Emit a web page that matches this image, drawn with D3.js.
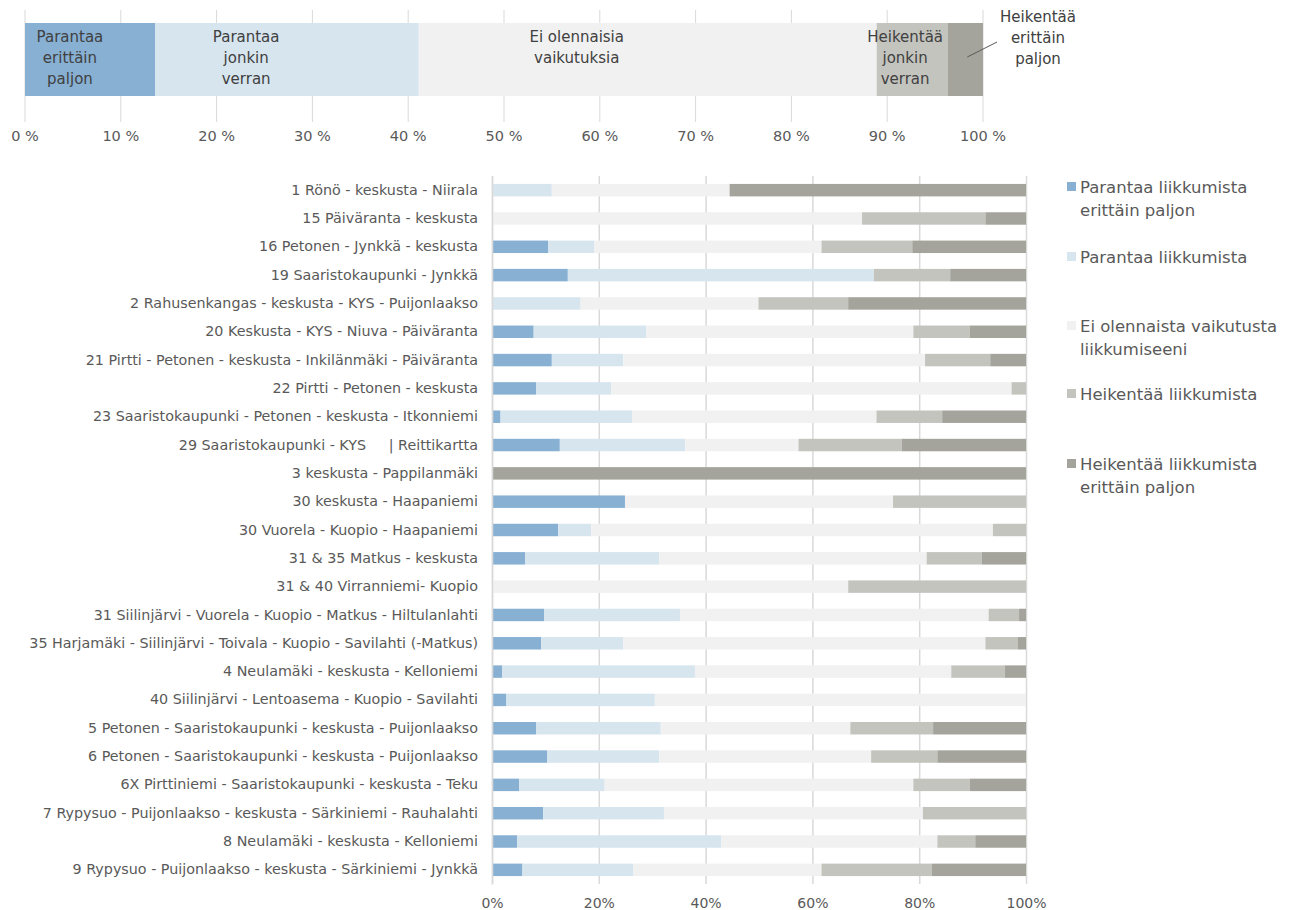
<!DOCTYPE html>
<html>
<head>
<meta charset="utf-8">
<script src="https://cdn.jsdelivr.net/npm/d3@7"></script>
<style>
  body { margin: 0; background: #fff; }
  svg { display: block; }
</style>
</head>
<body>
<svg id="chart" width="1291" height="910"></svg>
<script>
// series keys / legend names
var keys = ["pe", "pj", "ei", "hj", "he"];
var colors = ["#87b0d3", "#d7e5ef", "#f1f1f1", "#c4c4bf", "#a5a49c"];
var legendNames = [
  ["Parantaa liikkumista", "erittäin paljon"],
  ["Parantaa liikkumista"],
  ["Ei olennaista vaikutusta", "liikkumiseeni"],
  ["Heikentää liikkumista"],
  ["Heikentää liikkumista", "erittäin paljon"]
];

// overall (top bar)
var totalValues = [13.6, 27.5, 47.8, 7.4, 3.7];
var totalLabels = [
  ["Parantaa", "erittäin", "paljon"],
  ["Parantaa", "jonkin", "verran"],
  ["Ei olennaisia", "vaikutuksia"],
  ["Heikentää", "jonkin", "verran"],
  ["Heikentää", "erittäin", "paljon"]
];
var topTicks = [0, 10, 20, 30, 40, 50, 60, 70, 80, 90, 100];

// per route
var routes = [
  "1 Rönö - keskusta - Niirala",
  "15 Päiväranta - keskusta",
  "16 Petonen - Jynkkä - keskusta",
  "19 Saaristokaupunki - Jynkkä",
  "2 Rahusenkangas - keskusta - KYS - Puijonlaakso",
  "20 Keskusta - KYS - Niuva - Päiväranta",
  "21 Pirtti - Petonen - keskusta - Inkilänmäki - Päiväranta",
  "22 Pirtti - Petonen - keskusta",
  "23 Saaristokaupunki - Petonen - keskusta - Itkonniemi",
  "29 Saaristokaupunki - KYS     | Reittikartta",
  "3 keskusta - Pappilanmäki",
  "30 keskusta - Haapaniemi",
  "30 Vuorela - Kuopio - Haapaniemi",
  "31 & 35 Matkus - keskusta",
  "31 & 40 Virranniemi- Kuopio",
  "31 Siilinjärvi - Vuorela - Kuopio - Matkus - Hiltulanlahti",
  "35 Harjamäki - Siilinjärvi - Toivala - Kuopio - Savilahti (-Matkus)",
  "4 Neulamäki - keskusta - Kelloniemi",
  "40 Siilinjärvi - Lentoasema - Kuopio - Savilahti",
  "5 Petonen - Saaristokaupunki - keskusta - Puijonlaakso",
  "6 Petonen - Saaristokaupunki - keskusta - Puijonlaakso",
  "6X Pirttiniemi - Saaristokaupunki - keskusta - Teku",
  "7 Rypysuo - Puijonlaakso - keskusta - Särkiniemi - Rauhalahti",
  "8 Neulamäki - keskusta - Kelloniemi",
  "9 Rypysuo - Puijonlaakso - keskusta - Särkiniemi - Jynkkä"
];
var paranErittain = [0, 0, 10.5, 14.2, 0, 7.8, 11.2, 8.3, 1.6, 12.7, 0, 24.9, 12.4, 6.2, 0, 9.8, 9.2, 1.9, 2.7, 8.3, 10.3, 5.1, 9.6, 4.7, 5.7];
var paranJonkin = [11.2, 0, 8.6, 57.3, 16.6, 21.1, 13.4, 14.0, 24.7, 23.5, 0, 0, 6.2, 25.1, 0, 25.4, 15.4, 36.1, 27.8, 23.3, 21.0, 16.0, 22.6, 38.2, 20.7];
var eiVaikutusta = [33.3, 69.3, 42.6, 0, 33.3, 50.0, 56.5, 75.0, 45.7, 21.2, 0, 50.2, 75.2, 50.1, 66.7, 57.8, 67.8, 48.0, 69.5, 35.5, 39.7, 57.8, 48.5, 40.5, 35.3];
var heikJonkin = [0, 23.1, 17.0, 14.3, 16.8, 10.6, 12.2, 2.7, 12.3, 19.3, 0, 24.9, 6.2, 10.3, 33.3, 5.7, 6.1, 10.0, 0, 15.5, 12.4, 10.6, 19.3, 7.1, 20.7];
var heikErittain = [55.5, 7.6, 21.3, 14.2, 33.3, 10.5, 6.7, 0, 15.7, 23.3, 100, 0, 0, 8.3, 0, 1.3, 1.5, 4.0, 0, 17.4, 16.6, 10.5, 0, 9.5, 17.6];
var mainTicks = [0, 20, 40, 60, 80, 100];

var svg = d3.select("#chart");
var font = "DejaVu Sans, sans-serif";
var textCol = "#595959";
var gridCol = "#d9d9d9";

// ---------- top overall bar ----------
var xTop = d3.scaleLinear().domain([0, 100]).range([25, 983]);
var topG = svg.append("g");

topG.selectAll("line.grid")
  .data(topTicks)
  .enter().append("line")
  .attr("x1", function (d) { return xTop(d); })
  .attr("x2", function (d) { return xTop(d); })
  .attr("y1", 10).attr("y2", 122)
  .attr("stroke", gridCol).attr("stroke-width", 1);

var totalRow = {};
keys.forEach(function (k, i) { totalRow[k] = totalValues[i]; });
var totalStack = d3.stack().keys(keys)([totalRow]);

topG.selectAll("rect")
  .data(totalStack)
  .enter().append("rect")
  .attr("x", function (s) { return xTop(s[0][0]); })
  .attr("width", function (s) { return xTop(s[0][1]) - xTop(s[0][0]); })
  .attr("y", 23).attr("height", 73)
  .attr("fill", function (s, i) { return colors[i]; });

topG.selectAll("text.tick")
  .data(topTicks)
  .enter().append("text")
  .attr("x", function (d) { return xTop(d); })
  .attr("y", 141)
  .attr("text-anchor", "middle")
  .attr("font-family", font).attr("font-size", "14.5px")
  .attr("fill", textCol)
  .text(function (d) { return d + " %"; });

totalStack.forEach(function (s, i) {
  var x0 = xTop(s[0][0]), x1 = xTop(s[0][1]);
  var cx, y0;
  if (i < 4) {
    cx = x0 + 0.345 * (x1 - x0) + (i === 3 ? 4 : 0);
    y0 = 42;
  } else {
    cx = 1038; y0 = 22;
    topG.append("line")
      .attr("x1", (x0 + x1) / 2 + 2).attr("y1", 57)
      .attr("x2", 997).attr("y2", 42)
      .attr("stroke", "#595959").attr("stroke-width", 1);
  }
  var t = topG.append("text")
    .attr("text-anchor", "middle")
    .attr("font-family", font).attr("font-size", "15px")
    .attr("fill", "#404040");
  totalLabels[i].forEach(function (line, j) {
    t.append("tspan").attr("x", cx).attr("y", y0 + j * 21).text(line);
  });
});

// ---------- main chart ----------
var margin = { left: 492, right: 1026, top: 176, bottom: 884 };
var x = d3.scaleLinear().domain([0, 100]).range([margin.left, margin.right]);
var y = d3.scaleBand().domain(routes).range([margin.top, margin.bottom]).paddingInner(0.56).paddingOuter(0.28);

var rows = routes.map(function (r, i) {
  return { route: r, pe: paranErittain[i], pj: paranJonkin[i], ei: eiVaikutusta[i], hj: heikJonkin[i], he: heikErittain[i] };
});
var stacked = d3.stack().keys(keys)(rows);

var main = svg.append("g");

main.append("g")
  .attr("transform", "translate(0," + margin.bottom + ")")
  .call(d3.axisBottom(x).tickValues(mainTicks).tickSize(-(margin.bottom - margin.top)).tickFormat(function (d) { return d + "%"; }))
  .call(function (g) {
    g.select(".domain").remove();
    g.selectAll(".tick line").attr("stroke", gridCol).attr("stroke-width", 1.5);
    g.selectAll(".tick text").attr("font-family", font).attr("font-size", "14px")
      .attr("fill", textCol).attr("dy", "1.05em").attr("y", 9);
  });

main.selectAll("g.series")
  .data(stacked)
  .enter().append("g")
  .attr("fill", function (s, i) { return colors[i]; })
  .selectAll("rect")
  .data(function (s) { return s; })
  .enter().append("rect")
  .attr("x", function (d) { return x(d[0]); })
  .attr("width", function (d) { return x(d[1]) - x(d[0]); })
  .attr("y", function (d) { return y(d.data.route); })
  .attr("height", y.bandwidth());

main.append("g")
  .attr("transform", "translate(" + margin.left + ",0)")
  .call(d3.axisLeft(y).tickSize(0).tickPadding(14))
  .call(function (g) {
    g.select(".domain").attr("stroke", gridCol).attr("stroke-width", 1.5);
    g.selectAll(".tick text").attr("font-family", font).attr("font-size", "14.3px")
      .attr("fill", textCol).style("white-space", "pre");
  });

// ---------- legend ----------
var legendY = [193, 263, 332, 400, 470];
var legend = svg.append("g");
legendNames.forEach(function (lines, i) {
  legend.append("rect")
    .attr("x", 1067).attr("y", legendY[i] - 11)
    .attr("width", 9).attr("height", 9)
    .attr("fill", colors[i]);
  var t = legend.append("text")
    .attr("font-family", font).attr("font-size", "16.5px")
    .attr("fill", textCol);
  lines.forEach(function (line, j) {
    t.append("tspan").attr("x", 1080).attr("y", legendY[i] + j * 23).text(line);
  });
});
</script>
</body>
</html>
